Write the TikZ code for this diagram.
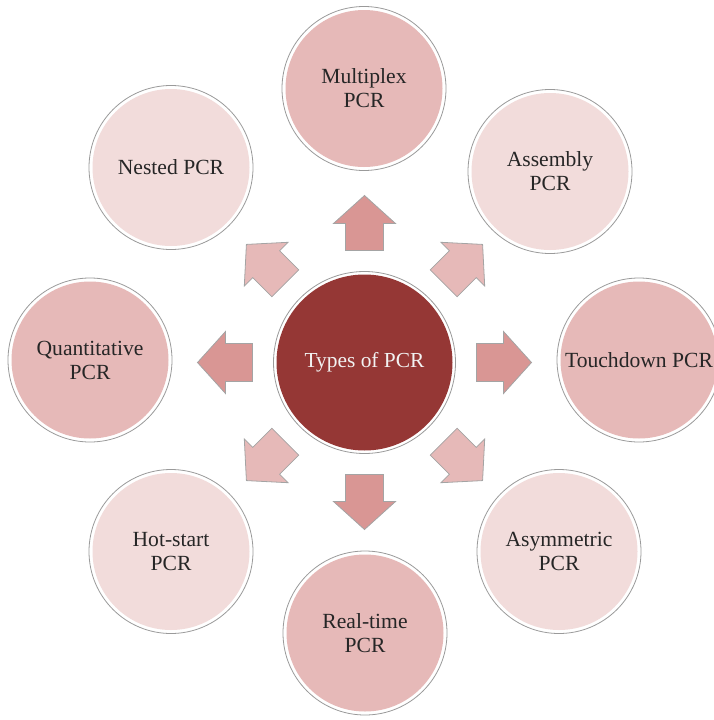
\documentclass[tikz,border=0pt]{standalone}
\usepackage{fontspec}
\setmainfont{Liberation Serif}
\definecolor{coreRed}{HTML}{953735}
\definecolor{pinkMid}{HTML}{E6B9B8}
\definecolor{pinkLight}{HTML}{F2DCDB}
\definecolor{arrowMid}{HTML}{D99694}
\definecolor{ringGray}{HTML}{9A9A9A}
\definecolor{inkDark}{HTML}{262626}
\begin{document}
\begin{tikzpicture}[x=1pt,y=-1pt,
  ringnode/.style={circle, minimum size=164pt, inner sep=0pt, fill=white,
    draw=ringGray, line width=0.8pt, align=center, text=inkDark,
    font=\fontsize{21.6}{24}\selectfont,
    path picture={\fill[#1] (path picture bounding box.center) circle[radius=78.5pt];}},
  hubnode/.style={circle, minimum size=182pt, inner sep=0pt, fill=white,
    draw=ringGray, line width=0.8pt, align=center, text=white!95!black,
    font=\fontsize{21.4}{24}\selectfont,
    path picture={\fill[coreRed] (path picture bounding box.center) circle[radius=88pt];}},
  blockarrow/.style={fill=#1, draw=ringGray!90, line width=0.8pt, line join=miter}
]
\useasboundingbox (0,0) rectangle (714,720);
\clip (0,0) rectangle (714,720);

% central hub
\node[hubnode] (hub) at (364.5,362.5) {Types of PCR};

% surrounding circles
\node[ringnode=pinkMid]   (multiplex)    at (364,88.5)  {Multiplex\\PCR};
\node[ringnode=pinkLight] (nested)       at (171,167.5) {Nested PCR};
\node[ringnode=pinkLight] (assembly)     at (550,171.5) {Assembly\\PCR};
\node[ringnode=pinkMid]   (quantitative) at (90,360)    {Quantitative\\PCR};
\node[ringnode=pinkMid]   (touchdown)    at (639,360)   {Touchdown PCR};
\node[ringnode=pinkLight] (hotstart)     at (171,551.5) {Hot-start\\PCR};
\node[ringnode=pinkLight] (asymmetric)   at (559,551.5) {Asymmetric\\PCR};
\node[ringnode=pinkMid]   (realtime)     at (365,633)   {Real-time\\PCR};

% block arrows radiating from the hub
\foreach \ang/\col in {0/arrowMid,90/arrowMid,180/arrowMid,270/arrowMid,
                       45/pinkMid,135/pinkMid,225/pinkMid,315/pinkMid}{
  \draw[blockarrow=\col, shift={(hub.center)}, rotate=\ang]
    (112pt,-19pt) -- (139pt,-19pt) -- (139pt,-31pt) -- (167pt,0pt)
    -- (139pt,31pt) -- (139pt,19pt) -- (112pt,19pt) -- cycle;
}
\end{tikzpicture}
\end{document}
